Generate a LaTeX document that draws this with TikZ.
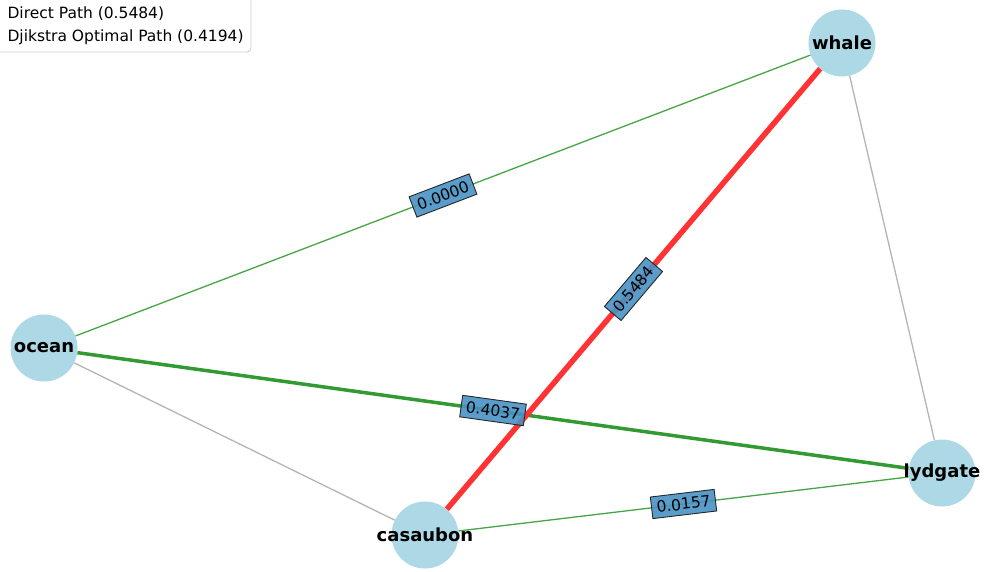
\documentclass[tikz,border=0pt]{standalone}
\usepackage{fontspec}
\setmainfont{DejaVu Sans}
\usetikzlibrary{backgrounds}
\definecolor{nodeblue}{RGB}{173,216,230}
\definecolor{pathgreen}{RGB}{51,153,51}
\definecolor{thingreen}{RGB}{70,165,70}
\definecolor{pathred}{RGB}{255,51,51}
\definecolor{edgegray}{RGB}{180,180,180}
\definecolor{labelblue}{RGB}{72,146,196}
\definecolor{legendframe}{RGB}{204,204,204}
\begin{document}
\begin{tikzpicture}[x=1pt,y=-1pt,
  vertex/.style={circle,fill=nodeblue,minimum size=67pt,inner sep=0pt,
    label={[font=\fontsize{18}{20}\selectfont\bfseries]center:#1}},
  thinedge/.style={line width=1.3pt},
  greenthin/.style={thinedge,draw=thingreen},
  greenthick/.style={line width=3.5pt,draw=pathgreen},
  redthick/.style={line width=5.5pt,draw=pathred},
  grayedge/.style={thinedge,draw=edgegray},
  weight/.style={midway,sloped,draw=black!85,line width=0.9pt,
    fill=labelblue,fill opacity=0.9,text opacity=1,
    inner xsep=5pt,inner ysep=5pt,
    font=\fontsize{15.5}{17}\selectfont},
  legendtext/.style={anchor=west,font=\fontsize{15.5}{17}\selectfont}]
\useasboundingbox (0,0) rectangle (984,572);

% graph vertices
\node[vertex=whale]    (whale)    at (842,43)  {};
\node[vertex=ocean]    (ocean)    at (44,348)  {};
\node[vertex=lydgate]  (lydgate)  at (942,473) {};
\node[vertex=casaubon] (casaubon) at (425,535) {};

% edges, kept beneath the vertices
\begin{scope}[on background layer]
\draw[greenthin]  (ocean) -- (whale);
\draw[grayedge]   (whale) -- (lydgate);
\draw[grayedge]   (ocean) -- (casaubon);
\draw[greenthick] (ocean) -- (lydgate);
\draw[redthick]   (casaubon) -- (whale);
\draw[greenthin]  (casaubon) -- (lydgate);
\end{scope}

% edge weights
\path (ocean) -- (whale) node[weight] (w1) {0.0000};
\path (casaubon) -- (whale) node[weight] (w2) {0.5484};
\path (ocean) -- (lydgate) node[weight] (w3) {0.4037};
\path (casaubon) -- (lydgate) node[weight] (w4) {0.0157};

% legend
\draw[legendframe,fill=white,rounded corners=4pt,line width=0.8pt]
  (-4,-4) rectangle (251,52);
\node[legendtext] (l1) at (4,14) {Direct Path (0.5484)};
\node[legendtext] (l2) at (4,37) {Djikstra Optimal Path (0.4194)};
\end{tikzpicture}
\end{document}
